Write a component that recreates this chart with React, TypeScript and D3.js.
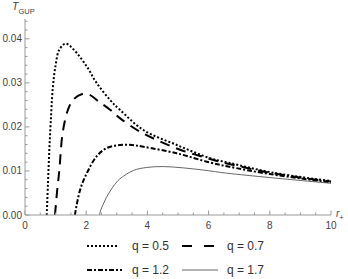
import React, { useEffect, useRef } from 'react';
import * as d3 from 'd3';

// r+ and T_GUP readings for each q
const r05 = [0.71, 0.75, 0.79, 0.84, 0.91, 1.0, 1.12, 1.33, 1.6, 2.02, 2.34, 2.78, 3.1, 3.87, 4.96, 6.05, 6.64, 8.11, 10];
const t05 = [0, 0.007, 0.014, 0.021, 0.029, 0.034, 0.0375, 0.0389, 0.0375, 0.0337, 0.03, 0.0261, 0.0239, 0.0193, 0.0159, 0.0129, 0.0119, 0.0096, 0.0077];

const r07 = [0.98, 1.05, 1.12, 1.23, 1.4, 1.58, 1.85, 2.1, 2.4, 2.78, 3.1, 3.76, 4.41, 5.07, 5.72, 6.37, 7.5, 8.5, 10];
const t07 = [0, 0.0055, 0.010, 0.0186, 0.0238, 0.0262, 0.0274, 0.0273, 0.0258, 0.0239, 0.022, 0.0189, 0.0167, 0.0148, 0.0134, 0.0121, 0.0103, 0.009, 0.0076];

const r12 = [1.63, 1.8, 2.02, 2.34, 2.67, 3.1, 3.5, 3.87, 4.96, 6.05, 6.64, 8, 10];
const t12 = [0, 0.0057, 0.0095, 0.0133, 0.0152, 0.0159, 0.0159, 0.0155, 0.014, 0.0119, 0.011, 0.0093, 0.0074];

const r17 = [2.43, 2.48, 2.56, 2.66, 2.78, 2.93, 3.1, 3.54, 3.98, 4.52, 5.17, 5.83, 6.59, 8, 10];
const t17 = [0, 0.0012, 0.0025, 0.004, 0.0054, 0.0069, 0.0082, 0.0101, 0.0108, 0.011, 0.0107, 0.0102, 0.0095, 0.0085, 0.0072];

const qLabels = ['q = 0.5', 'q = 0.7', 'q = 1.2', 'q = 1.7'];
const xTicks = [0, 2, 4, 6, 8, 10];
const yTicks = [0, 0.01, 0.02, 0.03, 0.04];

const W = 348;
const H = 279;

const App: React.FC = () => {
  const svgRef = useRef<SVGSVGElement | null>(null);

  useEffect(() => {
    if (!svgRef.current) return;
    const svg = d3.select(svgRef.current);
    svg.selectAll('*').remove();

    const margin = { left: 25, right: 17, top: 19, bottom: 64 };
    const x = d3.scaleLinear().domain([0, 10]).range([margin.left, W - margin.right]);
    const y = d3.scaleLinear().domain([0, 0.0445]).range([H - margin.bottom, margin.top]);

    const axisColor = '#9a9a9a';
    const labelColor = '#444';
    const font = 'Liberation Sans, Arial, sans-serif';

    svg.append('defs').append('clipPath').attr('id', 'plot')
      .append('rect')
      .attr('x', x(0)).attr('y', y(0.0445))
      .attr('width', x(10) - x(0) + 2).attr('height', y(0) - y(0.0445));

    // curves
    const styles = [
      { dash: '2,2', w: 2, c: '#000' },
      { dash: '10,7', w: 2, c: '#000' },
      { dash: '5,2,2,2', w: 2, c: '#000' },
      { dash: null, w: 0.9, c: '#555' },
    ];
    const series = [
      r05.map((r, i) => [r, t05[i]]),
      r07.map((r, i) => [r, t07[i]]),
      r12.map((r, i) => [r, t12[i]]),
      r17.map((r, i) => [r, t17[i]]),
    ] as [number, number][][];

    const line = d3.line<[number, number]>()
      .x(d => x(d[0]))
      .y(d => y(d[1]))
      .curve(d3.curveCatmullRom.alpha(0.5));

    const g = svg.append('g').attr('clip-path', 'url(#plot)');
    series.forEach((s, i) => {
      g.append('path')
        .attr('d', line(s) || '')
        .attr('fill', 'none')
        .attr('stroke', styles[i].c)
        .attr('stroke-width', styles[i].w)
        .attr('stroke-dasharray', styles[i].dash);
    });

    // axes
    svg.append('line')
      .attr('x1', x(0)).attr('x2', x(10))
      .attr('y1', y(0)).attr('y2', y(0))
      .attr('stroke', axisColor);
    svg.append('line')
      .attr('x1', x(0)).attr('x2', x(0))
      .attr('y1', y(0)).attr('y2', y(0.0445))
      .attr('stroke', axisColor);

    // x ticks (inward)
    d3.range(0, 10.01, 0.5).forEach(v => {
      const major = Math.abs(v % 2) < 1e-6;
      svg.append('line')
        .attr('x1', x(v)).attr('x2', x(v))
        .attr('y1', y(0)).attr('y2', y(0) - (major ? 4.5 : 2.5))
        .attr('stroke', axisColor);
    });
    xTicks.forEach(v => {
      svg.append('text')
        .attr('x', x(v)).attr('y', y(0) + 14)
        .attr('text-anchor', 'middle')
        .attr('font-family', font).attr('font-size', 10)
        .attr('fill', labelColor)
        .text(String(v));
    });

    // y ticks (inward)
    d3.range(0, 0.0441, 0.002).forEach(v => {
      const major = Math.abs(Math.round(v * 1000) % 10) === 0;
      svg.append('line')
        .attr('x1', x(0)).attr('x2', x(0) + (major ? 4.5 : 2.5))
        .attr('y1', y(v)).attr('y2', y(v))
        .attr('stroke', axisColor);
    });
    yTicks.forEach(v => {
      svg.append('text')
        .attr('x', x(0) - 3).attr('y', y(v) + 3.5)
        .attr('text-anchor', 'end')
        .attr('font-family', font).attr('font-size', 10)
        .attr('fill', labelColor)
        .text(v.toFixed(2));
    });

    // axis labels
    const tl = svg.append('text')
      .attr('x', 12).attr('y', 10)
      .attr('font-family', font).attr('fill', labelColor);
    tl.append('tspan').attr('font-style', 'italic').attr('font-size', 10.5).text('T');
    tl.append('tspan').attr('font-size', 7.5).attr('dy', 4).text('GUP');

    const rl = svg.append('text')
      .attr('x', 336).attr('y', 217)
      .attr('font-family', font).attr('fill', labelColor);
    rl.append('tspan').attr('font-style', 'italic').attr('font-size', 10).text('r');
    rl.append('tspan').attr('font-size', 7.5).attr('dy', 3).text('+');

    // legend
    const legendPos = [
      { lx: 87, ly: 246 },
      { lx: 182, ly: 246 },
      { lx: 87, ly: 270 },
      { lx: 182, ly: 270 },
    ];
    const sampleLen = [32, 32, 35, 36];
    legendPos.forEach((p, i) => {
      svg.append('line')
        .attr('x1', p.lx).attr('x2', p.lx + sampleLen[i])
        .attr('y1', p.ly).attr('y2', p.ly)
        .attr('stroke', styles[i].c)
        .attr('stroke-width', styles[i].w)
        .attr('stroke-dasharray', i === 1 ? '10,12' : styles[i].dash);
      svg.append('text')
        .attr('x', p.lx + 45).attr('y', p.ly + 4)
        .attr('font-family', font).attr('font-size', 12)
        .attr('fill', '#333')
        .text(qLabels[i]);
    });
  }, []);

  return (
    <svg
      ref={svgRef}
      width={W}
      height={H}
      style={{ position: 'absolute', left: 0, top: 0, background: '#fff' }}
    />
  );
};

export default App;
